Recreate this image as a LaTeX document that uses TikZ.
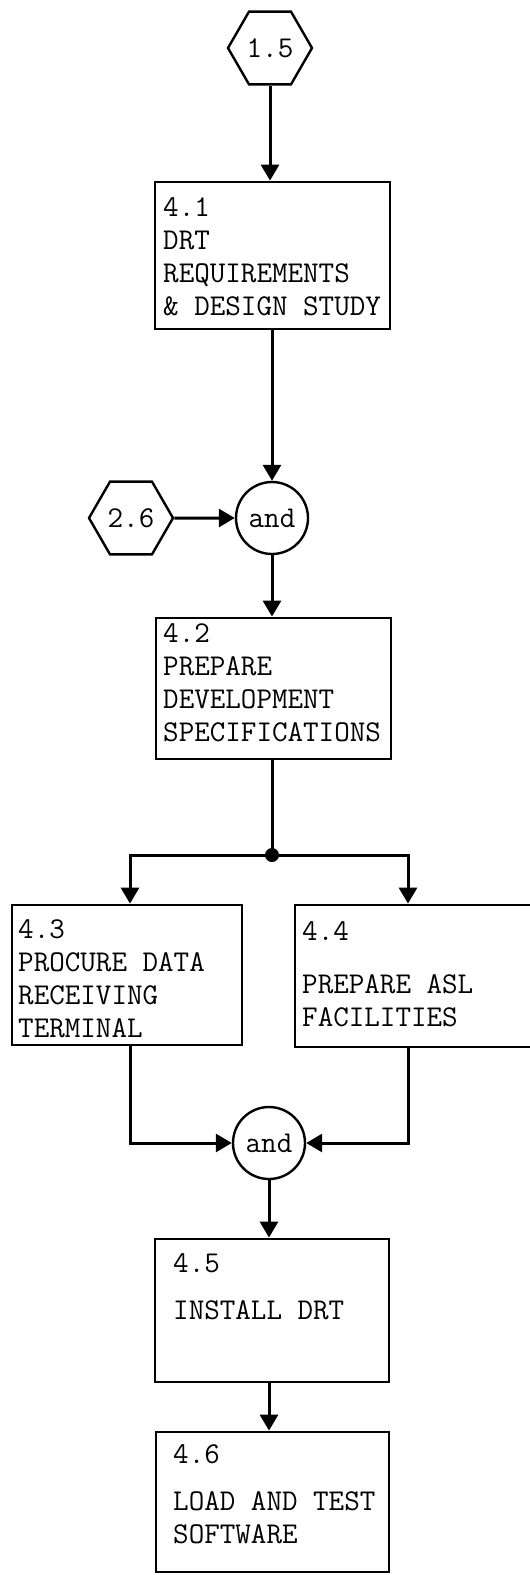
\documentclass[tikz,border=0pt]{standalone}
\usetikzlibrary{arrows.meta,shapes.geometric}
\begin{document}
\begin{tikzpicture}[x=1pt,y=-1pt,
  every node/.style={font=\ttfamily\fontsize{30.2}{33}\selectfont},
  box/.style={draw, rectangle, line width=2.8pt, inner sep=0pt},
  hexa/.style={regular polygon, regular polygon sides=6, draw, line width=2.4pt, minimum size=84pt, inner sep=0pt},
  andc/.style={circle, draw, line width=2.4pt, minimum size=72pt, inner sep=0pt},
  dotn/.style={circle, fill, minimum size=14pt, inner sep=0pt},
  lbl/.style={anchor=north west, inner sep=0pt, align=left},
  conn/.style={line width=3pt},
  arr/.style={line width=3pt, -{Triangle[length=16pt,width=18pt]}}
]
\useasboundingbox (0,0) rectangle (530,1575);
% nodes
\node[hexa] (h15) at (270,48) {1.5};
\node[box, minimum width=235pt, minimum height=147pt] (b41) at (272.5,255.5) {};
\node[lbl] (t41) at (163,197) {4.1\\DRT\\REQUIREMENTS\\\& DESIGN STUDY};
\node[hexa] (h26) at (131,518) {2.6};
\node[andc] (and1) at (272,518) {and};
\node[box, minimum width=235pt, minimum height=141pt] (b42) at (273.5,688.5) {};
\node[lbl] (t42) at (163,623) {4.2\\PREPARE\\DEVELOPMENT\\SPECIFICATIONS};
\node[dotn] (j) at (272,855) {};
\node[box, minimum width=230pt, minimum height=140pt] (b43) at (127,975) {};
\node[lbl] (t43) at (18,919) {4.3\\PROCURE DATA\\RECEIVING\\TERMINAL};
\node[box, minimum width=250pt, minimum height=142pt] (b44) at (420,976) {};
\node[lbl] (t44) at (302,921) {4.4\\[20pt]PREPARE ASL\\FACILITIES};
\node[andc] (and2) at (269,1143) {and};
\node[box, minimum width=234pt, minimum height=143pt] (b45) at (272,1310.5) {};
\node[lbl] (t45) at (173,1253) {4.5\\[14pt]INSTALL DRT};
\node[box, minimum width=233pt, minimum height=140pt] (b46) at (272.5,1502) {};
\node[lbl] (t46) at (173,1444) {4.6\\[14pt]LOAD AND TEST\\SOFTWARE};
% connectors
\draw[arr] (h15.south) -- (h15.south |- b41.north);
\draw[arr] (b41.south -| and1) -- (and1.north);
\draw[arr] (h26.east) -- (and1.west);
\draw[arr] (and1.south) -- (and1.south |- b42.north);
\draw[conn] (b42.south -| j) -- (j.center);
\draw[arr] (j.center) -| ([xshift=3pt]b43.north);
\draw[arr] (j.center) -| ([xshift=-12pt]b44.north);
\draw[arr] ([xshift=3pt]b43.south) |- (and2.west);
\draw[arr] ([xshift=-12pt]b44.south) |- (and2.east);
\draw[arr] (and2.south) -- (and2.south |- b45.north);
\draw[arr] (b45.south -| and2) -- (b46.north -| and2);
\end{tikzpicture}
\end{document}
